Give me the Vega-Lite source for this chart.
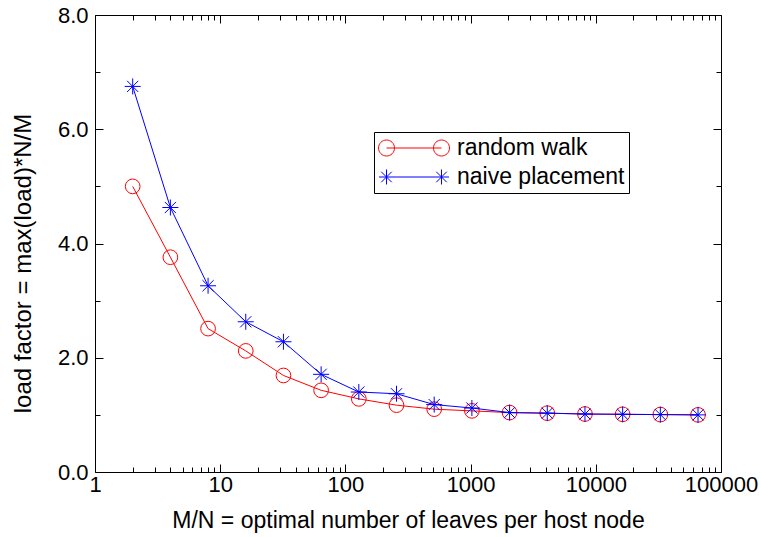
{
  "$schema": "https://vega.github.io/schema/vega-lite/v6.json",
  "width": 626,
  "height": 457,
  "autosize": {"type": "none"},
  "padding": {"left": 95, "top": 15, "right": 40, "bottom": 65},
  "background": "white",
  "config": {
    "view": {"stroke": "#000000", "strokeWidth": 1},
    "font": "Liberation Sans",
    "axis": {"grid": false, "domain": false, "tickColor": "#000000", "tickWidth": 1, "labelColor": "#000000", "titleColor": "#000000", "labelFont": "Liberation Sans", "titleFont": "Liberation Sans", "titleFontWeight": "normal"}
  },
  "data": {
    "values": [
      {"x": 2, "y": 5.0, "series": "random walk"},
      {"x": 4, "y": 3.76, "series": "random walk"},
      {"x": 8, "y": 2.51, "series": "random walk"},
      {"x": 16, "y": 2.12, "series": "random walk"},
      {"x": 32, "y": 1.69, "series": "random walk"},
      {"x": 64, "y": 1.43, "series": "random walk"},
      {"x": 128, "y": 1.28, "series": "random walk"},
      {"x": 256, "y": 1.17, "series": "random walk"},
      {"x": 512, "y": 1.10, "series": "random walk"},
      {"x": 1024, "y": 1.07, "series": "random walk"},
      {"x": 2048, "y": 1.04, "series": "random walk"},
      {"x": 4096, "y": 1.03, "series": "random walk"},
      {"x": 8192, "y": 1.015, "series": "random walk"},
      {"x": 16384, "y": 1.01, "series": "random walk"},
      {"x": 32768, "y": 1.005, "series": "random walk"},
      {"x": 65536, "y": 1.0, "series": "random walk"},
      {"x": 2, "y": 6.75, "series": "naive placement"},
      {"x": 4, "y": 4.63, "series": "naive placement"},
      {"x": 8, "y": 3.26, "series": "naive placement"},
      {"x": 16, "y": 2.63, "series": "naive placement"},
      {"x": 32, "y": 2.28, "series": "naive placement"},
      {"x": 64, "y": 1.71, "series": "naive placement"},
      {"x": 128, "y": 1.40, "series": "naive placement"},
      {"x": 256, "y": 1.37, "series": "naive placement"},
      {"x": 512, "y": 1.18, "series": "naive placement"},
      {"x": 1024, "y": 1.12, "series": "naive placement"},
      {"x": 2048, "y": 1.04, "series": "naive placement"},
      {"x": 4096, "y": 1.03, "series": "naive placement"},
      {"x": 8192, "y": 1.015, "series": "naive placement"},
      {"x": 16384, "y": 1.01, "series": "naive placement"},
      {"x": 32768, "y": 1.005, "series": "naive placement"},
      {"x": 65536, "y": 1.0, "series": "naive placement"}
    ]
  },
  "encoding": {
    "color": {
      "field": "series",
      "type": "nominal",
      "scale": {"domain": ["random walk", "naive placement"], "range": ["#ff0000", "#0000ff"]},
      "legend": {
        "title": null,
        "orient": "none",
        "legendX": 279,
        "legendY": 117,
        "strokeColor": "#000000",
        "fillColor": "#ffffff",
        "padding": 4,
        "rowPadding": 5,
        "symbolSize": 529,
        "symbolOffset": 24,
        "labelOffset": 31,
        "labelLimit": 0,
        "labelFont": "Liberation Sans",
        "labelFontSize": 23,
        "labelColor": "#000000",
        "encode": {
          "symbols": {
            "update": {
              "size": {"value": 529},
              "fill": {"value": "transparent"},
              "strokeWidth": {"value": 1},
              "opacity": {"value": 1},
              "stroke": {"signal": "datum.value === 'random walk' ? '#ff0000' : '#0000ff'"},
              "shape": {"signal": "datum.value === 'random walk' ? 'M-1.695,0A0.696,0.696 0 1,1 -3.087,0A0.696,0.696 0 1,1 -1.695,0M-2.391,0L2.391,0M3.087,0A0.696,0.696 0 1,1 1.695,0A0.696,0.696 0 1,1 3.087,0' : 'M-3.043,0L3.043,0M-2.391,-0.652L-2.391,0.652M2.391,-0.652L2.391,0.652M-2.848,-0.457L-1.934,0.457M-2.848,0.457L-1.934,-0.457M1.934,-0.457L2.848,0.457M1.934,0.457L2.848,-0.457'"}
            }
          }
        }
      }
    }
  },
  "layer": [
    {
      "transform": [{"filter": "datum.series === 'random walk'"}],
      "mark": {"type": "line", "strokeWidth": 1},
      "encoding": {
        "x": {
          "field": "x", "type": "quantitative",
          "scale": {"type": "log", "domain": [1, 100000]},
          "axis": {
            "orient": "bottom",
            "values": [1, 10, 100, 1000, 10000, 100000],
            "format": "d",
            "tickSize": -8,
            "labelPadding": 10,
            "labelFontSize": 22,
            "labelFlush": false,
            "title": "M/N = optimal number of leaves per host node",
            "titleFontSize": 23,
            "titleY": 55,
            "titleBaseline": "alphabetic"
          }
        },
        "y": {
          "field": "y", "type": "quantitative",
          "scale": {"domain": [0, 8], "nice": false, "zero": false},
          "axis": {
            "orient": "left",
            "values": [0, 2, 4, 6, 8],
            "format": ".1f",
            "tickSize": -8,
            "labelPadding": 15,
            "labelFontSize": 22,
            "title": "load factor = max(load)*N/M",
            "titleFontSize": 24,
            "titleX": -72,
            "titleY": 248,
            "titleBaseline": "middle",
            "titleAngle": -90
          }
        }
      }
    },
    {
      "transform": [{"filter": "datum.series === 'random walk'"}],
      "mark": {"type": "point", "shape": "circle", "filled": false, "size": 216, "strokeWidth": 1, "opacity": 1},
      "encoding": {
        "x": {
          "field": "x", "type": "quantitative",
          "scale": {"type": "log", "domain": [1, 100000]},
          "axis": {
            "orient": "bottom",
            "values": [2,3,4,5,6,7,8,9,20,30,40,50,60,70,80,90,200,300,400,500,600,700,800,900,2000,3000,4000,5000,6000,7000,8000,9000,20000,30000,40000,50000,60000,70000,80000,90000],
            "labels": false,
            "tickSize": -5,
            "title": null
          }
        },
        "y": {
          "field": "y", "type": "quantitative",
          "scale": {"domain": [0, 8], "nice": false, "zero": false},
          "axis": {"orient": "left", "values": [1, 3, 5, 7], "labels": false, "tickSize": -5, "title": null}
        }
      }
    },
    {
      "transform": [{"filter": "datum.series === 'naive placement'"}],
      "mark": {"type": "line", "strokeWidth": 1},
      "encoding": {
        "x": {
          "field": "x", "type": "quantitative",
          "scale": {"type": "log", "domain": [1, 100000]},
          "axis": {"orient": "top", "values": [1, 10, 100, 1000, 10000, 100000], "labels": false, "tickSize": -8, "title": null}
        },
        "y": {
          "field": "y", "type": "quantitative",
          "scale": {"domain": [0, 8], "nice": false, "zero": false},
          "axis": {"orient": "right", "values": [0, 2, 4, 6, 8], "labels": false, "tickSize": -8, "title": null}
        }
      }
    },
    {
      "transform": [{"filter": "datum.series === 'naive placement'"}],
      "mark": {"type": "point", "shape": "M-1,0L1,0M0,-1L0,1M-0.7,-0.7L0.7,0.7M-0.7,0.7L0.7,-0.7", "filled": false, "size": 256, "strokeWidth": 1, "opacity": 1},
      "encoding": {
        "x": {
          "field": "x", "type": "quantitative",
          "scale": {"type": "log", "domain": [1, 100000]},
          "axis": {
            "orient": "top",
            "values": [2,3,4,5,6,7,8,9,20,30,40,50,60,70,80,90,200,300,400,500,600,700,800,900,2000,3000,4000,5000,6000,7000,8000,9000,20000,30000,40000,50000,60000,70000,80000,90000],
            "labels": false,
            "tickSize": -5,
            "title": null
          }
        },
        "y": {
          "field": "y", "type": "quantitative",
          "scale": {"domain": [0, 8], "nice": false, "zero": false},
          "axis": {"orient": "right", "values": [1, 3, 5, 7], "labels": false, "tickSize": -5, "title": null}
        }
      }
    }
  ],
  "resolve": {"axis": {"x": "independent", "y": "independent"}}
}
